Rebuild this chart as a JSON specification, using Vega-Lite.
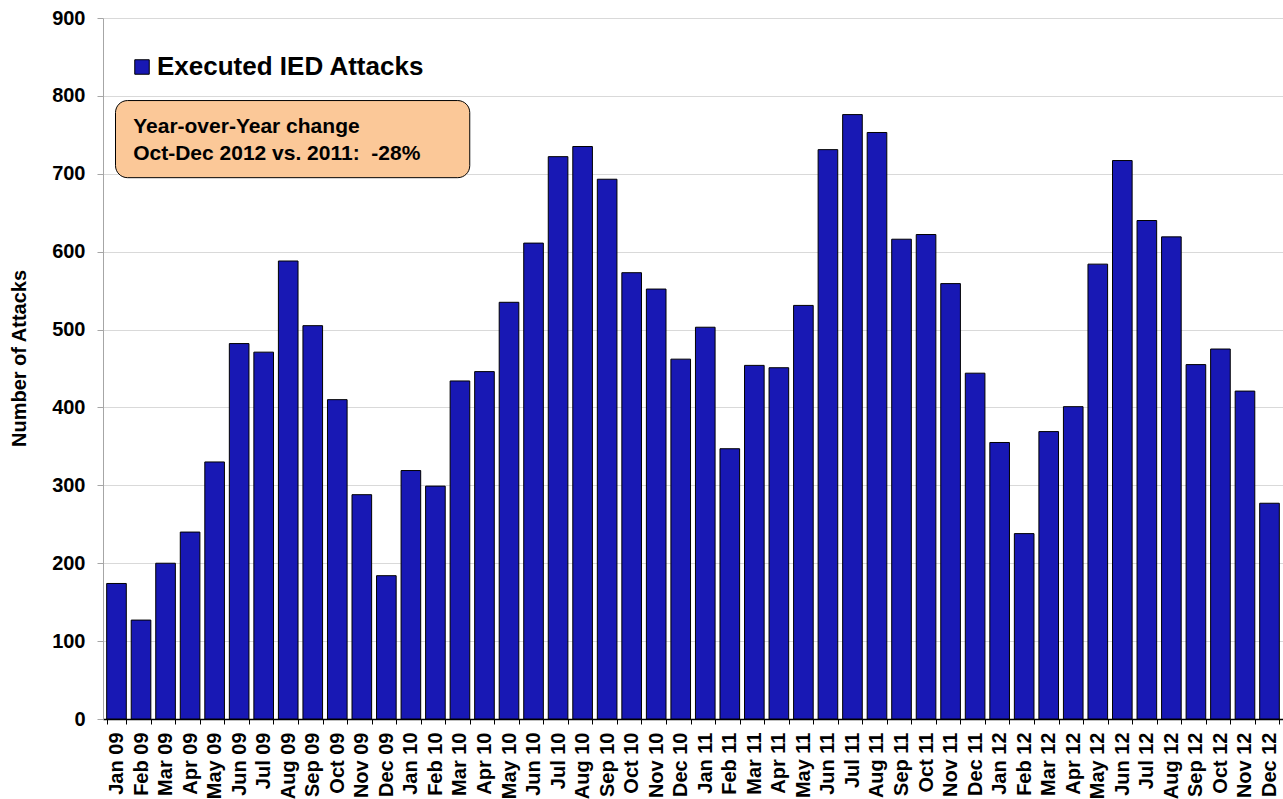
{
  "$schema": "https://vega.github.io/schema/vega-lite/v6.json",
  "width": 1180,
  "height": 701,
  "autosize": {"type": "none"},
  "padding": {"left": 103, "top": 18, "right": 0, "bottom": 80},
  "background": "white",
  "config": {
    "font": "Liberation Sans",
    "view": {"stroke": null}
  },
  "layer": [
    {
      "data": {
        "values": [
          {"month": "Jan 09", "attacks": 174, "series": "Executed IED Attacks"},
          {"month": "Feb 09", "attacks": 127, "series": "Executed IED Attacks"},
          {"month": "Mar 09", "attacks": 200, "series": "Executed IED Attacks"},
          {"month": "Apr 09", "attacks": 240, "series": "Executed IED Attacks"},
          {"month": "May 09", "attacks": 330, "series": "Executed IED Attacks"},
          {"month": "Jun 09", "attacks": 482, "series": "Executed IED Attacks"},
          {"month": "Jul 09", "attacks": 471, "series": "Executed IED Attacks"},
          {"month": "Aug 09", "attacks": 588, "series": "Executed IED Attacks"},
          {"month": "Sep 09", "attacks": 505, "series": "Executed IED Attacks"},
          {"month": "Oct 09", "attacks": 410, "series": "Executed IED Attacks"},
          {"month": "Nov 09", "attacks": 288, "series": "Executed IED Attacks"},
          {"month": "Dec 09", "attacks": 184, "series": "Executed IED Attacks"},
          {"month": "Jan 10", "attacks": 319, "series": "Executed IED Attacks"},
          {"month": "Feb 10", "attacks": 299, "series": "Executed IED Attacks"},
          {"month": "Mar 10", "attacks": 434, "series": "Executed IED Attacks"},
          {"month": "Apr 10", "attacks": 446, "series": "Executed IED Attacks"},
          {"month": "May 10", "attacks": 535, "series": "Executed IED Attacks"},
          {"month": "Jun 10", "attacks": 611, "series": "Executed IED Attacks"},
          {"month": "Jul 10", "attacks": 722, "series": "Executed IED Attacks"},
          {"month": "Aug 10", "attacks": 735, "series": "Executed IED Attacks"},
          {"month": "Sep 10", "attacks": 693, "series": "Executed IED Attacks"},
          {"month": "Oct 10", "attacks": 573, "series": "Executed IED Attacks"},
          {"month": "Nov 10", "attacks": 552, "series": "Executed IED Attacks"},
          {"month": "Dec 10", "attacks": 462, "series": "Executed IED Attacks"},
          {"month": "Jan 11", "attacks": 503, "series": "Executed IED Attacks"},
          {"month": "Feb 11", "attacks": 347, "series": "Executed IED Attacks"},
          {"month": "Mar 11", "attacks": 454, "series": "Executed IED Attacks"},
          {"month": "Apr 11", "attacks": 451, "series": "Executed IED Attacks"},
          {"month": "May 11", "attacks": 531, "series": "Executed IED Attacks"},
          {"month": "Jun 11", "attacks": 731, "series": "Executed IED Attacks"},
          {"month": "Jul 11", "attacks": 776, "series": "Executed IED Attacks"},
          {"month": "Aug 11", "attacks": 753, "series": "Executed IED Attacks"},
          {"month": "Sep 11", "attacks": 616, "series": "Executed IED Attacks"},
          {"month": "Oct 11", "attacks": 622, "series": "Executed IED Attacks"},
          {"month": "Nov 11", "attacks": 559, "series": "Executed IED Attacks"},
          {"month": "Dec 11", "attacks": 444, "series": "Executed IED Attacks"},
          {"month": "Jan 12", "attacks": 355, "series": "Executed IED Attacks"},
          {"month": "Feb 12", "attacks": 238, "series": "Executed IED Attacks"},
          {"month": "Mar 12", "attacks": 369, "series": "Executed IED Attacks"},
          {"month": "Apr 12", "attacks": 401, "series": "Executed IED Attacks"},
          {"month": "May 12", "attacks": 584, "series": "Executed IED Attacks"},
          {"month": "Jun 12", "attacks": 717, "series": "Executed IED Attacks"},
          {"month": "Jul 12", "attacks": 640, "series": "Executed IED Attacks"},
          {"month": "Aug 12", "attacks": 619, "series": "Executed IED Attacks"},
          {"month": "Sep 12", "attacks": 455, "series": "Executed IED Attacks"},
          {"month": "Oct 12", "attacks": 475, "series": "Executed IED Attacks"},
          {"month": "Nov 12", "attacks": 421, "series": "Executed IED Attacks"},
          {"month": "Dec 12", "attacks": 277, "series": "Executed IED Attacks"}
        ]
      },
      "mark": {"type": "bar", "stroke": "#000000", "strokeWidth": 1},
      "encoding": {
        "x": {
          "field": "month",
          "type": "nominal",
          "title": null,
          "scale": {
            "domain": ["Jan 09","Feb 09","Mar 09","Apr 09","May 09","Jun 09","Jul 09","Aug 09","Sep 09","Oct 09","Nov 09","Dec 09",
                       "Jan 10","Feb 10","Mar 10","Apr 10","May 10","Jun 10","Jul 10","Aug 10","Sep 10","Oct 10","Nov 10","Dec 10",
                       "Jan 11","Feb 11","Mar 11","Apr 11","May 11","Jun 11","Jul 11","Aug 11","Sep 11","Oct 11","Nov 11","Dec 11",
                       "Jan 12","Feb 12","Mar 12","Apr 12","May 12","Jun 12","Jul 12","Aug 12","Sep 12","Oct 12","Nov 12","Dec 12"],
            "paddingInner": 0.2,
            "paddingOuter": 0.15
          },
          "axis": {
            "labelAngle": -90,
            "labelFontSize": 20,
            "labelFontWeight": "bold",
            "labelColor": "#000000",
            "labelPadding": 8,
            "tickBand": "extent",
            "tickSize": 5,
            "tickColor": "#000000",
            "domainColor": "#000000",
            "domainWidth": 1.5,
            "grid": false
          }
        },
        "y": {
          "field": "attacks",
          "type": "quantitative",
          "title": "Number of Attacks",
          "scale": {"domain": [0, 900], "nice": false},
          "axis": {
            "values": [0,100,200,300,400,500,600,700,800,900],
            "labelFontSize": 20,
            "labelFontWeight": "bold",
            "labelColor": "#000000",
            "labelPadding": 12,
            "tickSize": 6,
            "tickColor": "#a6a6a6",
            "domainColor": "#a6a6a6",
            "gridColor": "#d9d9d9",
            "titleFontSize": 20,
            "titleFontWeight": "bold",
            "titleColor": "#000000",
            "titlePadding": 22,
            "titleY": 340
          }
        },
        "color": {
          "field": "series",
          "type": "nominal",
          "scale": {"range": ["#1818b4"]},
          "legend": {
            "title": null,
            "orient": "none",
            "legendX": 26,
            "legendY": 36,
            "symbolType": "square",
            "symbolSize": 210,
            "symbolStrokeColor": "#000000",
            "symbolStrokeWidth": 1,
            "labelFontSize": 26,
            "labelFontWeight": "bold",
            "labelColor": "#000000",
            "labelLimit": 0,
            "labelOffset": 2,
            "padding": 0
          }
        }
      }
    },
    {
      "data": {"values": [{"from": "Jan 09", "to": "Mar 10", "top": 794, "bottom": 695}]},
      "mark": {"type": "rect", "fill": "#fbc898", "stroke": "#000000", "strokeWidth": 1, "cornerRadius": 12},
      "encoding": {
        "x": {"field": "from", "type": "nominal", "bandPosition": 0.45},
        "x2": {"field": "to", "bandPosition": 1},
        "y": {"field": "top", "type": "quantitative"},
        "y2": {"field": "bottom"}
      }
    },
    {
      "data": {
        "values": [
          {"month": "Feb 09", "level": 752, "note": "Year-over-Year change"},
          {"month": "Feb 09", "level": 718, "note": "Oct-Dec 2012 vs. 2011:\u00a0 -28%"}
        ]
      },
      "mark": {"type": "text", "align": "left", "baseline": "alphabetic", "fontSize": 21, "fontWeight": "bold", "color": "#000000"},
      "encoding": {
        "x": {"field": "month", "type": "nominal", "bandPosition": 0.1},
        "y": {"field": "level", "type": "quantitative"},
        "text": {"field": "note"}
      }
    }
  ]
}
